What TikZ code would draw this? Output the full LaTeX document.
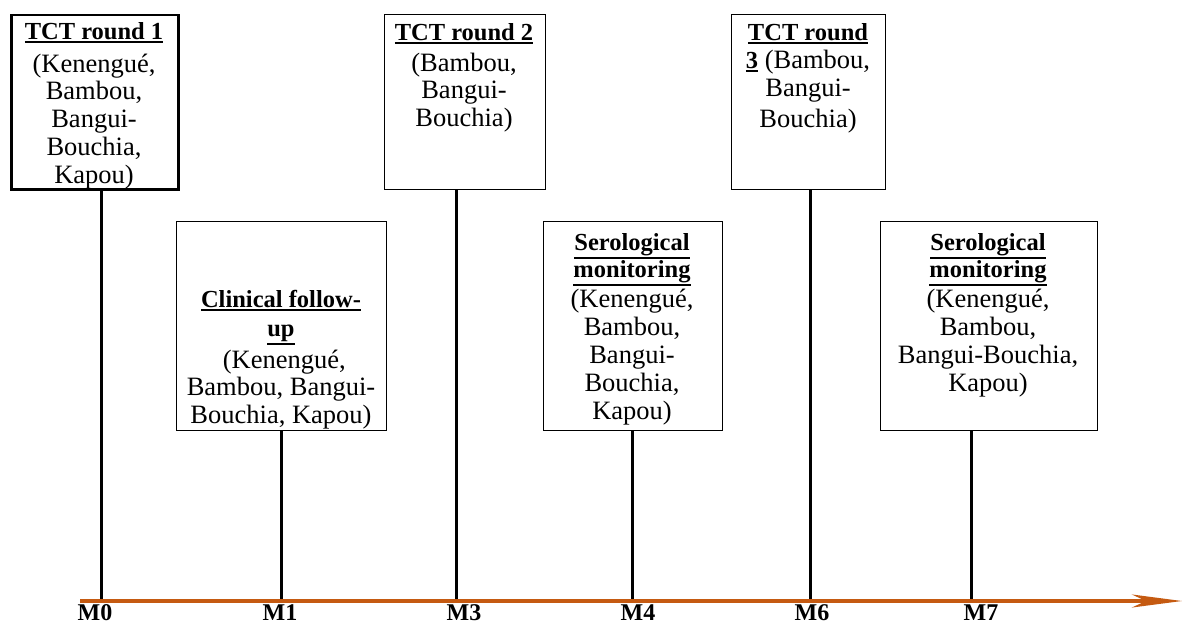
\documentclass[tikz,border=0pt]{standalone}
\usepackage{fontspec}
\setmainfont{Liberation Serif}
\usetikzlibrary{arrows.meta}
\definecolor{axiscol}{RGB}{197,90,17}
\newcommand\myul[1]{\leavevmode\vtop{\hbox{#1}\kern1.6pt\hrule height 1.8pt}}
\newcommand\ttl[1]{{\fontsize{24.5}{28}\selectfont\bfseries\myul{#1}}}
\begin{document}
\begin{tikzpicture}[x=1pt,y=-1pt,
  box/.style={draw, line width=1.2pt, inner sep=0pt, anchor=north west},
  txt/.style={anchor=north, inner sep=0pt, align=center, font=\fontsize{26.5}{27.8}\selectfont},
  stem/.style={line width=3pt, black},
  axisline/.style={line width=4pt, axiscol, -{Stealth[length=50pt,width=13pt,inset=14pt]}},
  mlab/.style={font=\fontsize{24}{28}\selectfont\bfseries, inner sep=0pt}]
\useasboundingbox (0,0) rectangle (1182,626);
% boxes
\node[box, line width=2.5pt, minimum width=167pt, minimum height=174pt] (b1) at (10,14) {};
\node[box, minimum width=210pt, minimum height=209pt] (b2) at (176,221) {};
\node[box, minimum width=161pt, minimum height=175pt] (b3) at (384,14) {};
\node[box, minimum width=179pt, minimum height=209pt] (b4) at (543,221) {};
\node[box, minimum width=154pt, minimum height=175pt] (b5) at (731,14) {};
\node[box, minimum width=217pt, minimum height=209pt] (b6) at (880,221) {};
% texts
\node[txt] (t1) at (94,22) {\ttl{TCT round 1}\\[5pt](Kenengué,\\Bambou,\\Bangui-\\Bouchia,\\Kapou)};
\node[txt] (t2) at (281,290) {\ttl{Clinical follow-}\\[1pt]\ttl{up}\\[4pt]\ (Kenengué,\\Bambou, Bangui-\\Bouchia, Kapou)};
\node[txt] (t3) at (464,23) {\ttl{TCT round 2}\\[3pt](Bambou,\\Bangui-\\Bouchia)};
\node[txt] (t4) at (632,233) {\ttl{Serological}\\[-1pt]\ttl{monitoring}\\[3pt](Kenengué,\\Bambou,\\Bangui-\\Bouchia,\\Kapou)};
\node[txt] (t5) at (808,23) {\ttl{TCT round}\\[0pt]\ttl{3} (Bambou,\\[1pt]Bangui-\\[3pt]Bouchia)};
\node[txt] (t6) at (988,233) {\ttl{Serological}\\[-1pt]\ttl{monitoring}\\[3pt](Kenengué,\\Bambou,\\Bangui-Bouchia,\\Kapou)};
% axis
\coordinate (a0) at (80,601);
\coordinate (a1) at (1182,601);
\coordinate (p0) at (101,601);
\coordinate (p1) at (281,601);
\coordinate (p3) at (456,601);
\coordinate (p4) at (632,601);
\coordinate (p6) at (810,601);
\coordinate (p7) at (971,601);
\draw[stem] (p0 |- b1.south) -- (p0);
\draw[stem] (p1 |- b2.south) -- (p1);
\draw[stem] (p3 |- b3.south) -- (p3);
\draw[stem] (p4 |- b4.south) -- (p4);
\draw[stem] (p6 |- b5.south) -- (p6);
\draw[stem] (p7 |- b6.south) -- (p7);
\draw[axisline] (a0) -- (a1);
% labels
\node[mlab] (m0) at (95,613) {M0};
\node[mlab] (m1) at (280,613) {M1};
\node[mlab] (m3) at (464,613) {M3};
\node[mlab] (m4) at (638,613) {M4};
\node[mlab] (m6) at (812,613) {M6};
\node[mlab] (m7) at (981,613) {M7};
\end{tikzpicture}
\end{document}
